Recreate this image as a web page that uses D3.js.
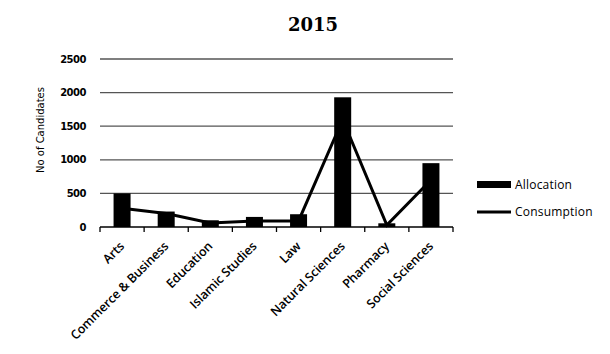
<!DOCTYPE html>
<html><head><meta charset="utf-8">
<script src="https://cdn.jsdelivr.net/npm/d3@7"></script>
<style>body{margin:0;background:#fff}</style>
</head><body>
<svg id="c" width="610" height="354"></svg>
<script>
const categories = ["Arts","Commerce & Business","Education","Islamic Studies","Law","Natural Sciences","Pharmacy","Social Sciences"];
const allocation = [500, 230, 100, 150, 190, 1930, 55, 950];
const consumption = [280, 200, 60, 90, 90, 1600, 30, 700];
const yTicks = [0, 500, 1000, 1500, 2000, 2500];
const title = "2015";
const yTitle = "No of Candidates";
const seriesNames = ["Allocation", "Consumption"];

const svg = d3.select("#c");
const m = {l:100, r:157, t:59, b:127};
const W = 610, H = 354;
const xc = d3.scaleBand().domain(categories).range([m.l, W - m.r]);
const y = d3.scaleLinear().domain([0, 2500]).range([H - m.b, m.t]);

// gridlines
svg.append("g").selectAll("line").data(yTicks.filter(d => d > 0)).join("line")
  .attr("x1", m.l).attr("x2", W - m.r)
  .attr("y1", d => y(d)).attr("y2", d => y(d))
  .attr("stroke", "#555").attr("stroke-width", 1.3);

// y tick labels
svg.append("g").selectAll("text").data(yTicks).join("text")
  .attr("x", 86).attr("y", d => y(d)).attr("dy", "0.35em")
  .attr("text-anchor", "end")
  .style("font-family", "DejaVu Sans").style("font-size", "10px").style("font-weight", "bold")
  .style("letter-spacing", "-0.5px")
  .text(d => d);

// bars
svg.append("g").selectAll("rect").data(categories).join("rect")
  .attr("x", (d) => xc(d) + xc.bandwidth()/2 - 8.5)
  .attr("width", 17)
  .attr("y", (d, i) => y(allocation[i]))
  .attr("height", (d, i) => y(0) - y(allocation[i]))
  .attr("fill", "#000");

// line
const line = d3.line().x((d, i) => xc(categories[i]) + xc.bandwidth()/2).y(d => y(d));
svg.append("path").datum(consumption).attr("d", line)
  .attr("fill", "none").attr("stroke", "#000").attr("stroke-width", 3);

// x axis
const gx = svg.append("g").attr("transform", `translate(0,${y(0)})`);
gx.append("line").attr("x1", m.l).attr("x2", W - m.r).attr("stroke", "#000").attr("stroke-width", 1.3);
const tickPos = d3.range(categories.length + 1).map(i => m.l + i * xc.step());
gx.selectAll("line.t").data(tickPos).join("line").attr("class", "t")
  .attr("x1", d => d).attr("x2", d => d).attr("y1", 0).attr("y2", 5)
  .attr("stroke", "#000").attr("stroke-width", 1.3);
gx.selectAll("text").data(categories).join("text")
  .attr("transform", d => `translate(${xc(d) + xc.bandwidth()/2 + 3},${20}) rotate(-45)`)
  .attr("text-anchor", "end")
  .style("font-family", "Open Sans").style("font-size", "12.5px").style("font-weight", "600")
  .style("letter-spacing", "-0.1px")
  .text(d => d);

// title
svg.append("text").attr("x", 313).attr("y", 31).attr("text-anchor", "middle")
  .style("font-family", "DejaVu Serif").style("font-weight", "bold").style("font-size", "18px")
  .text(title);

// y title
svg.append("text").attr("transform", `translate(44,130) rotate(-90)`)
  .attr("text-anchor", "middle")
  .style("font-family", "DejaVu Sans").style("font-size", "10px")
  .text(yTitle);

// legend
const lg = svg.append("g");
lg.append("rect").attr("x", 477).attr("y", 181).attr("width", 34).attr("height", 7).attr("fill", "#000");
lg.append("text").attr("x", 515).attr("y", 184.5).attr("dy", "0.35em")
  .style("font-family", "Open Sans").style("font-size", "12px").style("letter-spacing", "0.2px").text(seriesNames[0]);
lg.append("line").attr("x1", 477).attr("x2", 511).attr("y1", 212).attr("y2", 212).attr("stroke", "#000").attr("stroke-width", 3);
lg.append("text").attr("x", 515).attr("y", 212).attr("dy", "0.35em")
  .style("font-family", "Open Sans").style("font-size", "12px").style("letter-spacing", "0.2px").text(seriesNames[1]);
</script>
</body></html>
